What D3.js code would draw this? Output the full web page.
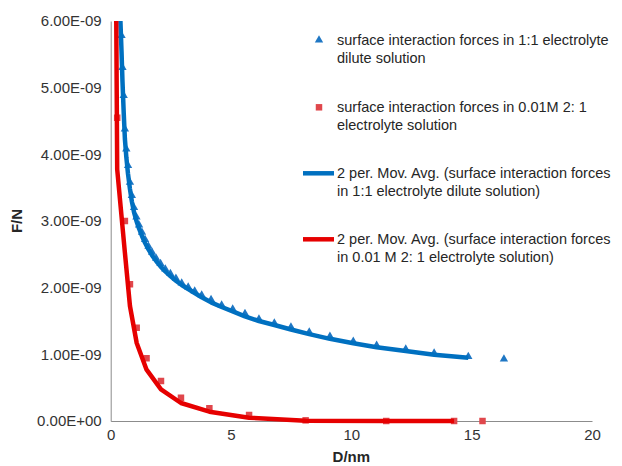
<!DOCTYPE html>
<html lang="en">
<head>
<meta charset="UTF-8">
<title>Surface interaction forces</title>
<script src="https://d3js.org/d3.v7.min.js"></script>
<style>
    body {
        margin: 0;
        background: #ffffff;
        font-family: 'Liberation Sans', Arial, sans-serif;
    }
    .tick-label { font-size: 15px; fill: #333; }
    .axis-title { font-size: 15px; font-weight: bold; fill: #262626; }
    .legend-text { font-size: 14.5px; fill: #262626; }
</style>
</head>
<body>
<div id="chart"></div>
<script>
    // distances (nm) and forces (N)
    const blueD = [0.40, 0.45, 0.49, 0.54, 0.59, 0.65, 0.72, 0.80, 0.88, 0.97, 1.07, 1.18, 1.30, 1.43, 1.57, 1.72, 1.89,
        2.07, 2.27, 2.48, 2.71, 2.95, 3.22, 3.49, 3.78, 4.17, 4.61, 5.07, 5.58, 6.16, 6.80, 7.49, 8.25, 9.11,
        10.08, 11.05, 12.26, 13.44, 14.86, 16.34];
    const blueF = [6.30, 5.78, 5.30, 4.88, 4.38, 4.08, 3.83, 3.58, 3.38, 3.20, 3.06, 2.94, 2.83, 2.72, 2.62, 2.53, 2.44,
        2.36, 2.28, 2.21, 2.14, 2.07, 2.01, 1.95, 1.89, 1.82, 1.74, 1.68, 1.61, 1.53, 1.47, 1.41, 1.335, 1.27,
        1.195, 1.135, 1.08, 1.02, 0.965, 0.93].map(v => v * 1e-9);

    const redD = [0.23, 0.27, 0.59, 0.80, 1.08, 1.49, 2.09, 2.92, 4.10, 5.75, 8.10, 11.45, 14.27, 15.45];
    const redF = [7.60, 4.55, 3.00, 2.05, 1.40, 0.94, 0.60, 0.35, 0.19, 0.09, 0.01, 0.0, 0.0, 0.0].map(v => v * 1e-9);

    const xTicks = [0, 5, 10, 15, 20];
    const yTicks = [0, 1e-9, 2e-9, 3e-9, 4e-9, 5e-9, 6e-9];
    const yTickLabels = ["0.00E+00", "1.00E-09", "2.00E-09", "3.00E-09", "4.00E-09", "5.00E-09", "6.00E-09"];

    const legendLabels = [
        ["surface interaction forces in 1:1 electrolyte", "dilute solution"],
        ["surface interaction forces in 0.01M 2: 1", "electrolyte solution"],
        ["2 per. Mov. Avg. (surface interaction forces", "in 1:1 electrolyte dilute solution)"],
        ["2 per. Mov. Avg. (surface interaction forces", "in 0.01 M 2: 1 electrolyte solution)"]
    ];

    const width = 622, height = 466;
    const plotLeft = 110.7, plotRight = 592, plotTop = 21, plotBottom = 421;

    const svg = d3.select("#chart").append("svg")
        .attr("width", width)
        .attr("height", height);

    const x = d3.scaleLinear().domain([0, 20]).range([plotLeft, plotRight]);
    const y = d3.scaleLinear().domain([0, 6e-9]).range([plotBottom, plotTop]);

    svg.append("clipPath").attr("id", "plot")
        .append("rect")
        .attr("x", plotLeft - 6).attr("y", plotTop)
        .attr("width", plotRight - plotLeft + 12).attr("height", plotBottom - plotTop + 6);

    // axes (no tick marks, grey lines)
    const yAxis = svg.append("g")
        .attr("transform", `translate(${plotLeft},0)`)
        .call(d3.axisLeft(y).tickValues(yTicks).tickSize(0).tickPadding(9)
            .tickFormat((d, i) => yTickLabels[i]));
    const xAxis = svg.append("g")
        .attr("transform", `translate(0,${plotBottom})`)
        .call(d3.axisBottom(x).tickValues(xTicks).tickSize(0).tickPadding(8));
    [xAxis, yAxis].forEach(a => {
        a.attr("font-family", null).attr("font-size", null);
        a.select(".domain").attr("stroke", "#8c8c8c").attr("stroke-width", 1);
        a.selectAll("text").attr("class", "tick-label");
    });

    svg.append("text").attr("class", "axis-title")
        .attr("x", x(10)).attr("y", 462)
        .attr("text-anchor", "middle").text("D/nm");
    svg.append("text").attr("class", "axis-title")
        .attr("transform", `translate(22,${y(3e-9)}) rotate(-90)`)
        .attr("text-anchor", "middle").text("F/N");

    const blue = blueD.map((d, i) => ({ d: d, f: blueF[i] }));
    const red = redD.map((d, i) => ({ d: d, f: redF[i] }));

    // 2 period moving average, placed at the smaller distance of each pair
    function movAvg(pts) {
        const s = pts.slice().sort((a, b) => a.d - b.d);
        return d3.pairs(s).map(([a, b]) => ({ d: a.d, f: (a.f + b.f) / 2 }));
    }

    const plot = svg.append("g").attr("clip-path", "url(#plot)");
    const tri = d3.symbol().type(d3.symbolTriangle).size(30);
    const sq = d3.symbol().type(d3.symbolSquare).size(42);

    plot.selectAll(".sq").data(red).join("path")
        .attr("class", "sq")
        .attr("d", sq)
        .attr("transform", p => `translate(${x(p.d)},${y(p.f)})`)
        .attr("fill", "#e0474c");

    plot.selectAll(".tri").data(blue).join("path")
        .attr("class", "tri")
        .attr("d", tri)
        .attr("transform", p => `translate(${x(p.d)},${y(p.f)})`)
        .attr("fill", "#1f77c4");

    const line = d3.line().x(p => x(p.d)).y(p => y(p.f));

    plot.append("path").datum(movAvg(blue))
        .attr("d", line).attr("fill", "none")
        .attr("stroke", "#0070c0").attr("stroke-width", 4.5)
        .attr("stroke-linejoin", "round");

    plot.append("path").datum(movAvg(red))
        .attr("d", line).attr("fill", "none")
        .attr("stroke", "#e60000").attr("stroke-width", 4.5)
        .attr("stroke-linejoin", "round");

    // legend
    const legendY = [40, 107.3, 173.3, 239.3];
    const lg = svg.append("g");
    lg.append("path").attr("d", tri).attr("transform", `translate(319,${legendY[0]})`).attr("fill", "#1f77c4");
    lg.append("path").attr("d", sq).attr("transform", `translate(319,${legendY[1]})`).attr("fill", "#e0474c");
    lg.append("line").attr("x1", 303).attr("x2", 334).attr("y1", legendY[2]).attr("y2", legendY[2])
        .attr("stroke", "#0070c0").attr("stroke-width", 4.5);
    lg.append("line").attr("x1", 303).attr("x2", 334).attr("y1", legendY[3]).attr("y2", legendY[3])
        .attr("stroke", "#e60000").attr("stroke-width", 4.5);

    legendLabels.forEach((lines, i) => {
        lines.forEach((t, j) => {
            lg.append("text").attr("class", "legend-text")
                .attr("x", 337).attr("y", legendY[i] + 5 + j * 17.5)
                .text(t);
        });
    });
</script>
</body>
</html>
